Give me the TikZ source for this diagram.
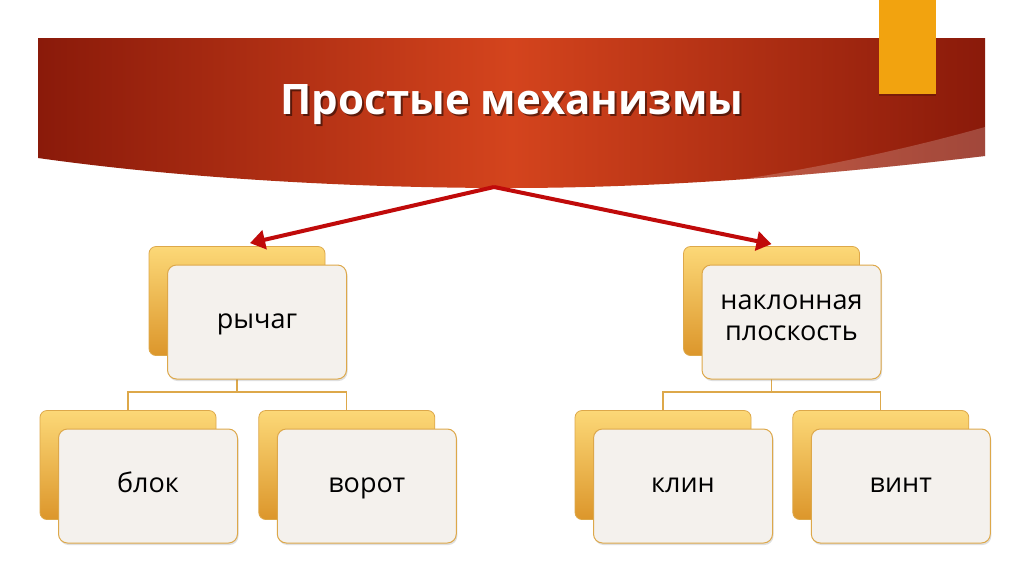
\documentclass[tikz,border=0pt]{standalone}
\usepackage{fontspec}
\setmainfont{Open Sans}
\usetikzlibrary{arrows.meta,positioning,calc,shadows}
\definecolor{bannerdark}{HTML}{8A1A0A}
\definecolor{bannerlit}{HTML}{D4441D}
\definecolor{tab}{HTML}{F2A30F}
\definecolor{arrowred}{HTML}{C00A0A}
\definecolor{gold}{HTML}{DDA84A}
\definecolor{goldtop}{HTML}{FCD877}
\definecolor{goldbot}{HTML}{DC962B}
\definecolor{card}{HTML}{F4F1ED}

\begin{document}
\begin{tikzpicture}[x=1pt,y=-1pt,
  back/.style={rectangle,rounded corners=7pt,minimum width=176pt,minimum height=109pt,
    top color=goldtop,bottom color=goldbot,draw=gold,line width=0.8pt},
  front/.style={rectangle,rounded corners=9pt,minimum width=179pt,minimum height=114pt,
    fill=card,draw=gold,line width=1pt,align=center,
    font=\fontsize{27}{31}\selectfont,
    execute at begin node=\strut,execute at end node=\strut,
    drop shadow={opacity=0.25,shadow xshift=1pt,shadow yshift=-2pt}},
  link/.style={gold,line width=1.2pt},
  pointer/.style={arrowred,line width=4pt,-{Triangle[length=15pt,width=19pt]}}]
  \useasboundingbox (0,0) rectangle (1024,574);
  \fill[white] (0,0) rectangle (1024,574);

  % Banner with the title
  \shade[left color=bannerdark,right color=bannerdark,middle color=bannerlit]
    (38,38) -- (985,38) -- (985,156) .. controls (850,172) and (680,188) .. (510,188)
    .. controls (350,188) and (180,178) .. (38,158) -- cycle;
  \begin{scope}
    \clip (38,38) -- (985,38) -- (985,156) .. controls (850,172) and (680,188) .. (510,188)
      .. controls (350,188) and (180,178) .. (38,158) -- cycle;
    \fill[white,opacity=0.2] (985,127) .. controls (850,165) and (700,190) .. (560,200)
      -- (1000,200) -- (1000,127) -- cycle;
  \end{scope}
  \fill[black,opacity=0.2] (879,2) rectangle (936,96);
  \fill[tab] (879,0) rectangle (936,94);
  \node[font=\fontsize{42}{48}\selectfont\bfseries,black,opacity=0.5] (titleshadow) at (514,107) {Простые механизмы};
  \node[font=\fontsize{42}{48}\selectfont\bfseries,white] (title) at (512,105) {Простые механизмы};

  % Back cards
  \node[back] (b1) at (237,301) {};
  \node[back] (b2) at (128,465) {};
  \node[back,right=42pt of b2] (b3) {};
  \node[back] (b4) at (771.5,301) {};
  \node[back] (b5) at (663,465) {};
  \node[back,right=41pt of b5] (b6) {};

  % Tree links
  \draw[link] (b1.south) -- ++(0,36) -| (b2.north);
  \draw[link] (b1.south) -- ++(0,36) -| (b3.north);
  \draw[link] (b4.south) -- ++(0,36) -| (b5.north);
  \draw[link] (b4.south) -- ++(0,36) -| (b6.north);

  % Front cards
  \node[front] (f1) at ($(b1)+(20,21)$) {рычаг};
  \node[front] (f2) at ($(b2)+(20,21)$) {блок};
  \node[front] (f3) at ($(b3)+(20,21)$) {ворот};
  \node[front] (f4) at ($(b4)+(20,21)$) {наклонная\\плоскость};
  \node[front] (f5) at ($(b5)+(20,21)$) {клин};
  \node[front] (f6) at ($(b6)+(20,21)$) {винт};

  % Arrows from the banner
  \coordinate (apex) at (494,187);
  \draw[pointer] (apex) -- ([xshift=13pt,yshift=3pt]b1.north);
  \draw[pointer] (apex) -- ([yshift=2pt]b4.north);
\end{tikzpicture}
\end{document}
